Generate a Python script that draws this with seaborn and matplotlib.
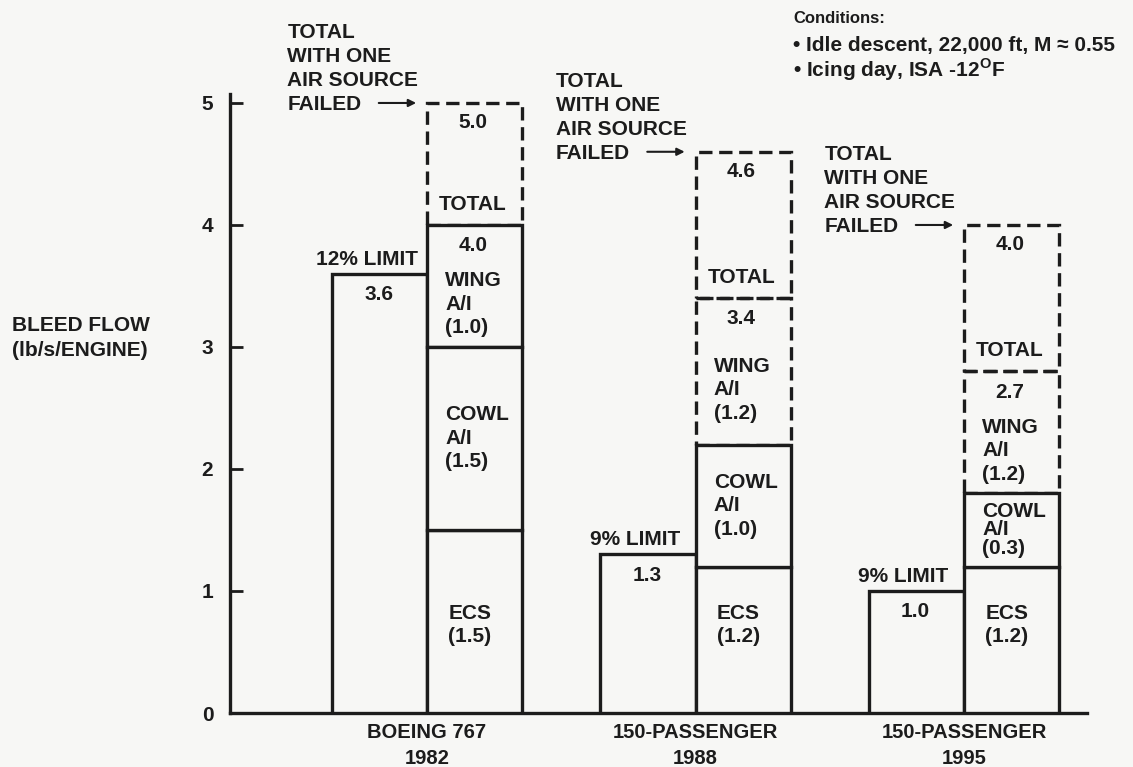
import matplotlib
matplotlib.use("Agg")
import matplotlib.pyplot as plt
import numpy as np
import pandas as pd
import seaborn as sns

# bleed flow per engine, lb/s
aircraft = ["BOEING 767\n1982", "150-PASSENGER\n1988", "150-PASSENGER\n1995"]
limit = [3.6, 1.3, 1.0]
ecs = [1.5, 1.2, 1.2]
cowl = [1.5, 1.0, 0.6]   # 1995 cowl segment is drawn taller than its printed (0.3)
wing = [1.0, 1.2, 1.0]   # 1995 wing segment drawn ~1.0 although printed (1.2)
failed_total = [5.0, 4.6, 4.0]

limit_names = ["12% LIMIT", "9% LIMIT", "9% LIMIT"]
limit_labels = ["3.6", "1.3", "1.0"]
total_labels = ["4.0", "3.4", "2.7"]
failed_labels = ["5.0", "4.6", "4.0"]
ecs_labels = ["(1.5)", "(1.2)", "(1.2)"]
cowl_labels = ["(1.5)", "(1.0)", "(0.3)"]
wing_labels = ["(1.0)", "(1.2)", "(1.2)"]

BG = "#f7f7f5"
INK = "#1c1c1c"
LW = 2.4
DASH = (0, (4, 2))
FS = 15

sns.set_theme(style="white")
plt.rcParams["font.family"] = ["Liberation Sans", "DejaVu Sans"]
plt.rcParams["font.weight"] = "bold"
plt.rcParams["text.color"] = INK
plt.rcParams["xtick.color"] = INK
plt.rcParams["ytick.color"] = INK
plt.rcParams["mathtext.fontset"] = "custom"
plt.rcParams["mathtext.rm"] = "Liberation Sans"
plt.rcParams["mathtext.bf"] = "Liberation Sans:bold"

fig = plt.figure(figsize=(11.33, 7.67), dpi=100, facecolor=BG)
ax = fig.add_axes([0.203, 0.0704, 0.797, 0.9296])
ax.set_facecolor(BG)

df = pd.DataFrame({
    "aircraft": aircraft * 2,
    "part": ["limit"] * 3 + ["ecs"] * 3,
    "flow": limit + ecs,
})
sns.barplot(data=df, x="aircraft", y="flow", hue="part", order=aircraft,
            hue_order=["limit", "ecs"], palette={"limit": BG, "ecs": BG},
            width=0.708, gap=0, errorbar=None, saturation=1, legend=False,
            edgecolor=INK, linewidth=LW, zorder=3, ax=ax)

w = 0.354
xs = np.arange(3) + w / 2
cowl_bot = np.array(ecs)
wing_bot = cowl_bot + np.array(cowl)
wing_top = wing_bot + np.array(wing)
dashed_wing = [False, True, True]

for i in range(3):
    ls = DASH if dashed_wing[i] else "-"
    z = 2 if dashed_wing[i] else 3
    ax.bar(xs[i], wing[i], bottom=wing_bot[i], width=w, facecolor=BG,
           edgecolor=INK, linewidth=LW, linestyle=ls, zorder=z)
ax.bar(xs, np.array(failed_total) - wing_top, bottom=wing_top, width=w,
       fill=False, edgecolor=INK, linewidth=LW, linestyle=DASH, zorder=2)
ax.bar(xs, cowl, bottom=cowl_bot, width=w, facecolor=BG, edgecolor=INK,
       linewidth=LW, zorder=3)

for i in range(3):
    # limit bar
    ax.text(i - 0.225, limit[i] + 0.12, limit_names[i], ha="center", va="center", fontsize=FS)
    ax.text(i - 0.18, limit[i] - 0.17, limit_labels[i], ha="center", va="center", fontsize=FS)
    # stacked bar
    ax.text(i + 0.17, failed_total[i] - 0.16, failed_labels[i], ha="center", va="center", fontsize=FS)
    ax.text(i + 0.17, wing_top[i] + 0.17, "TOTAL", ha="center", va="center", fontsize=FS, zorder=4)
    ax.text(i + 0.17, wing_top[i] - 0.17, total_labels[i], ha="center", va="center", fontsize=FS, zorder=4)
    ax.text(i + 0.068, (wing_bot[i] + wing_top[i] - 0.3) / 2, "WING\nA/I\n" + wing_labels[i],
            ha="left", va="center", fontsize=FS, linespacing=1.3, zorder=4)
    ax.text(i + 0.068, (cowl_bot[i] + wing_bot[i]) / 2, "COWL\nA/I\n" + cowl_labels[i],
            ha="left", va="center", fontsize=FS, zorder=4,
            linespacing=0.95 if cowl[i] < 0.8 else 1.3)
    ax.text(i + 0.08, 0.72, "ECS\n" + ecs_labels[i], ha="left", va="center",
            fontsize=FS, linespacing=1.25, zorder=4)
    # note with arrow pointing at the dashed box
    ax.text(i - 0.52, failed_total[i] - 0.06, "TOTAL\nWITH ONE\nAIR SOURCE\nFAILED",
            ha="left", va="baseline", fontsize=FS, linespacing=1.33)
    ax.annotate("", xy=(i - 0.03, failed_total[i]), xytext=(i - 0.19, failed_total[i]),
                arrowprops=dict(arrowstyle="-|>", color=INK, lw=1.5, mutation_scale=11))

ax.set_xlim(-0.7337, 2.6294)
ax.set_ylim(0, 5.844)
ax.set_yticks(range(6))
ax.set_xlabel("")
ax.set_ylabel("")
for s in ["top", "right"]:
    ax.spines[s].set_visible(False)
for s in ["left", "bottom"]:
    ax.spines[s].set_color(INK)
    ax.spines[s].set_linewidth(LW)
ax.spines["left"].set_bounds(0, 5.074)
ax.spines["bottom"].set_bounds(-0.7337, 2.458)
ax.tick_params(axis="y", direction="in", length=9, width=2, pad=12, labelsize=FS, left=True)
ax.tick_params(axis="x", length=0, pad=7, labelsize=14.5)
for t in ax.get_xticklabels():
    t.set_linespacing(1.5)

fig.text(0.0106, 0.5593, "BLEED FLOW\n(lb/s/ENGINE)", ha="left", va="center",
         fontsize=15, linespacing=1.35)
fig.text(0.700, 0.9765, "Conditions:", ha="left", va="center", fontsize=12)
fig.text(0.700, 0.9413, "\u2022 Idle descent, 22,000 ft, M \u2248 0.55", ha="left",
         va="center", fontsize=15)
fig.text(0.700, 0.9087, "\u2022 Icing day, ISA -12$^{\\mathbf{O}}$F", ha="left",
         va="center", fontsize=15)

fig.savefig("out.png", dpi=100, facecolor=BG)
